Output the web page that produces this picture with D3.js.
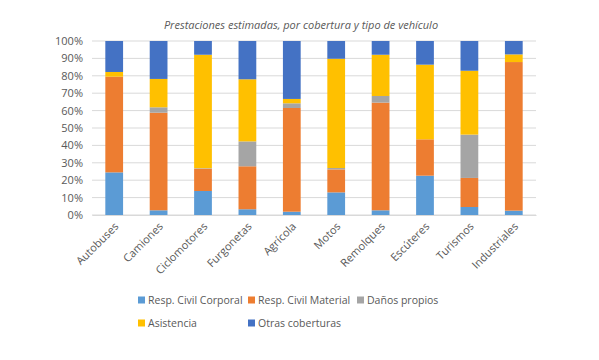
<!DOCTYPE html>
<html><head><meta charset="utf-8">
<script src="https://cdn.jsdelivr.net/npm/d3@7"></script>
<style>body{margin:0;background:#fff;} text{font-family:"Open Sans","Liberation Sans",sans-serif;}</style>
</head><body><svg id="c" width="599" height="360"></svg>
<script>
const categories = ["Autobuses","Camiones","Ciclomotores","Furgonetas","Agrícola","Motos","Remolques","Escúteres","Turismos","Industriales"];
const seriesNames = ["Resp. Civil Corporal","Resp. Civil Material","Daños propios","Asistencia","Otras coberturas"];
const respCivilCorporal = [24.5, 2.7, 13.8, 3.3, 1.9, 13.0, 2.7, 22.6, 4.6, 2.5];
const respCivilMaterial = [55.0, 56.1, 12.8, 24.7, 59.6, 13.2, 61.9, 20.9, 16.7, 85.4];
const danosPropios      = [0.0, 3.1, 0.3, 14.3, 2.7, 0.8, 3.8, 0.0, 24.9, 0.0];
const asistencia        = [2.7, 16.3, 65.2, 35.7, 2.5, 62.8, 23.7, 42.9, 36.7, 4.4];
const otrasCoberturas   = [17.8, 21.8, 7.9, 22.0, 33.3, 10.2, 7.9, 13.6, 17.1, 7.7];
const yTicks = [0,10,20,30,40,50,60,70,80,90,100];
const colors = ["#5B9BD5","#ED7D31","#A5A5A5","#FFC000","#4472C4"];

const table = categories.map((c,i)=>({cat:c, s0:respCivilCorporal[i], s1:respCivilMaterial[i], s2:danosPropios[i], s3:asistencia[i], s4:otrasCoberturas[i]}));
const keys = ["s0","s1","s2","s3","s4"];
const stacked = d3.stack().keys(keys)(table);

const svg = d3.select("#c");
const x = d3.scaleBand().domain(categories).range([92,536]).paddingInner(0.6).paddingOuter(0.3);
const y = d3.scaleLinear().domain([0,100]).range([215,41]);

svg.append("text").attr("x",301).attr("y",29).attr("text-anchor","middle")
  .attr("font-style","italic").attr("font-size",11).attr("fill","#595959")
  .text("Prestaciones estimadas, por cobertura y tipo de vehículo");

const gridG = svg.append("g");
yTicks.forEach(t=>{
  gridG.append("line").attr("x1",92).attr("x2",536).attr("y1",y(t)).attr("y2",y(t))
    .attr("stroke","#D9D9D9").attr("stroke-width",1);
});

const yAxis = d3.axisLeft(y).tickValues(yTicks).tickSize(0).tickFormat(d=>d+"%");
const ya = svg.append("g").attr("transform","translate(86,0)").call(yAxis);
ya.select(".domain").remove();
ya.selectAll("text").attr("font-size",11).attr("fill","#595959").attr("font-family","'Open Sans','Liberation Sans',sans-serif");

svg.append("g").selectAll("g").data(stacked).join("g").attr("fill",(d,i)=>colors[i])
  .selectAll("rect").data(d=>d).join("rect")
  .attr("x",d=>x(d.data.cat)).attr("width",x.bandwidth())
  .attr("y",d=>y(d[1])).attr("height",d=>Math.max(0,y(d[0])-y(d[1])));

const xAxis = d3.axisBottom(x).tickSize(0);
const xa = svg.append("g").attr("transform","translate(0,215)").call(xAxis);
xa.select(".domain").attr("stroke","#D9D9D9");
xa.selectAll("text").attr("font-size",11).attr("fill","#595959")
  .attr("font-family","'Open Sans','Liberation Sans',sans-serif")
  .attr("text-anchor","end").attr("dy",0)
  .attr("transform","translate(3,10) rotate(-45)");

const legendPos = [[138,300],[248,300],[357,300],[138,323],[248,323]];
const lg = svg.append("g");
seriesNames.forEach((n,i)=>{
  const [lx,ly] = legendPos[i];
  lg.append("rect").attr("x",lx).attr("y",ly-3.5).attr("width",7).attr("height",7).attr("fill",colors[i]);
  lg.append("text").attr("x",lx+10).attr("y",ly+4).attr("font-size",10.5).attr("fill","#595959").text(n);
});
</script></body></html>
